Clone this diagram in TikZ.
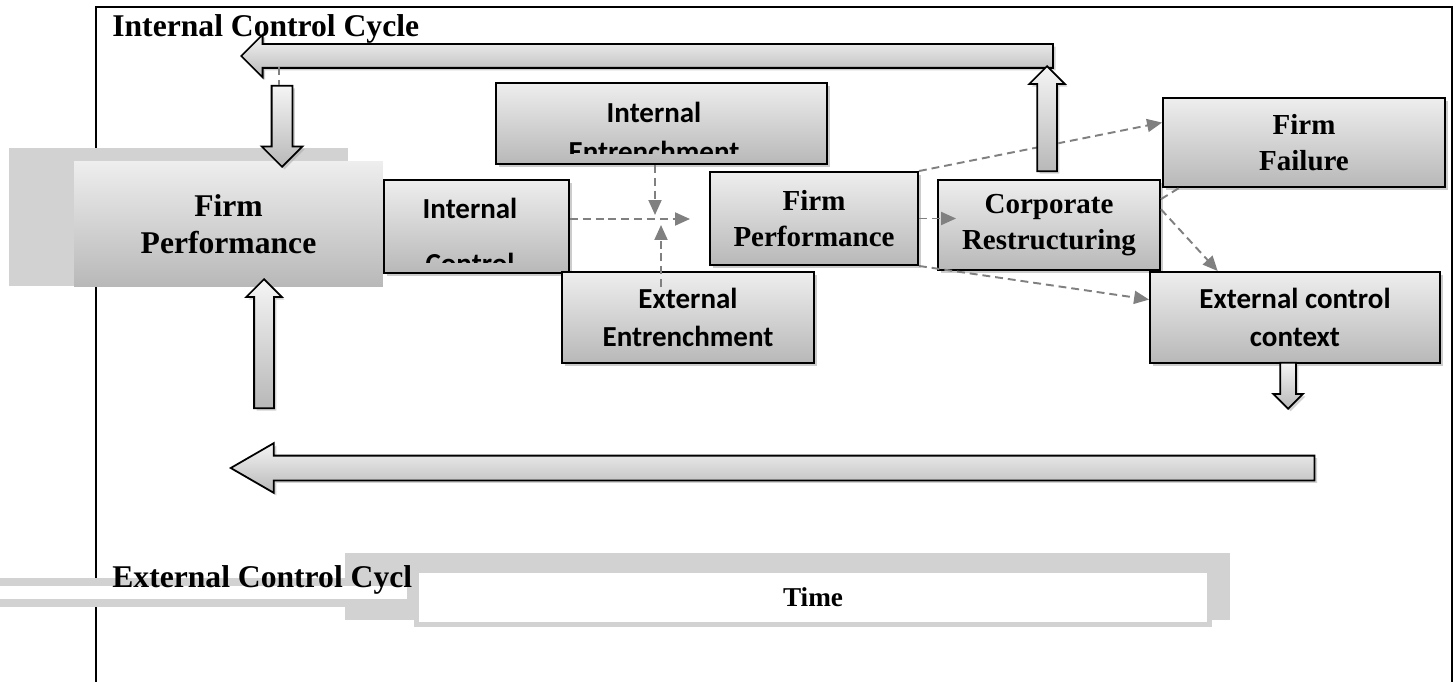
\documentclass[tikz,border=0pt]{standalone}
\usepackage{fontspec}
\setmainfont{Liberation Serif}
\newfontfamily\calib{Carlito}
\usepackage{tikz}
\usetikzlibrary{shapes.arrows, arrows.meta, calc, shadows}
\definecolor{boxTop}{RGB}{238,238,238}
\definecolor{boxBottom}{RGB}{184,184,184}
\definecolor{dashGray}{RGB}{128,128,128}
\definecolor{paleGray}{RGB}{210,210,210}

\begin{document}
\begin{tikzpicture}[
    x=0.02cm, y=-0.02cm,
    >={Triangle[length=0.3cm, width=0.26cm]},
    % Styles
    box/.style={
        draw=black, line width=1.1pt, top color=boxTop, bottom color=boxBottom, inner sep=0pt, align=center,
        drop shadow={shadow xshift=0.06cm, shadow yshift=-0.06cm, fill=black!40}
    },
    big_box/.style={
        top color=boxTop, bottom color=boxBottom, inner sep=0pt, align=center
    },
    big_lbl/.style={font=\fontsize{18}{21}\selectfont\bfseries},
    times_lbl/.style={font=\fontsize{16.5}{20.5}\selectfont\bfseries},
    calib_lbl/.style={font=\calib\fontsize{16.5}{22}\selectfont\bfseries},
    block_arrow/.style={
        single arrow, draw=black, line width=1pt, top color=boxTop!60!white, bottom color=boxBottom,
        single arrow tip angle=90,
        drop shadow={shadow xshift=0.05cm, shadow yshift=-0.05cm, fill=black!35}
    },
    dash_line/.style={draw=dashGray, line width=1.1pt, dash pattern=on 4.5pt off 2.8pt},
    dash_arrow/.style={dash_line, ->, dashGray}
]
    \useasboundingbox (0,0) rectangle (1456,682);

    % --- Frame & title ---
    \draw[line width=0.05cm] (96,682) -- (96,7) -- (1452,7) -- (1452,682);
    \node[big_lbl, anchor=base west, inner sep=0pt] (int_cycle) at (112,37) {Internal Control Cycle};

    % --- Firm performance (start) ---
    \fill[paleGray] (9,148) rectangle (348,286);
    \node[big_box, big_lbl, minimum width=6.18cm, minimum height=2.52cm] (big_perf) at (228.5,224) {Firm\\Performance};

    % --- Boxes ---
    \node[box, minimum width=3.7cm, minimum height=1.86cm] (int_ctrl) at (476.5,226.5) {};
    \node[box, minimum width=6.62cm, minimum height=1.62cm] (int_ent) at (661.5,123.5) {};
    \node[box, calib_lbl, minimum width=5.04cm, minimum height=1.82cm] (ext_ent) at (688,317.5) {External\\Entrenchment};
    \node[box, times_lbl, minimum width=4.16cm, minimum height=1.86cm] (mid_perf) at (814,218.5) {Firm\\Performance};
    \node[box, times_lbl, minimum width=4.44cm, minimum height=1.8cm] (corp) at (1049,225) {Corporate\\Restructuring};
    \node[box, times_lbl, minimum width=5.64cm, minimum height=1.78cm] (failure) at (1304,142.5) {Firm\\Failure};
    \node[box, calib_lbl, minimum width=5.8cm, minimum height=1.82cm] (ext_ctx) at (1295,317.5) {External control\\context};

    % text cut off at the bottom of the box
    \begin{scope}
        \clip (int_ctrl.north west) rectangle ($(int_ctrl.south east)+(0,-11)$);
        \node[calib_lbl, anchor=base] (int_ctrl_a) at (470,218) {Internal};
        \node[calib_lbl, anchor=base] (int_ctrl_b) at (470,273) {Control};
    \end{scope}
    \begin{scope}
        \clip (int_ent.north west) rectangle ($(int_ent.south east)+(0,-11)$);
        \node[calib_lbl, anchor=base] (int_ent_a) at (654,123) {Internal};
        \node[calib_lbl, anchor=base] (int_ent_b) at (654,162) {Entrenchment};
    \end{scope}

    % --- Dashed connectors ---
    \coordinate (meet) at (690,219);
    \coordinate (meet_a) at (655,215);
    \coordinate (meet_b) at (661,225);
    \draw[dash_arrow] (int_ctrl.east |- meet) -- (meet);
    \draw[dash_arrow] (int_ent.south -| meet_a) -- (meet_a);
    \draw[dash_arrow, shorten <=-0.32cm] (ext_ent.north -| meet_b) -- (meet_b);

    \draw[dash_arrow, shorten >=-0.38cm] (mid_perf.east) -- (mid_perf.east -| corp.west);
    \draw[dash_arrow] (mid_perf.north east) -- (failure.172);
    \draw[dash_arrow] (mid_perf.south east) -- (ext_ctx.173);
    \draw[dash_arrow] (corp.8) -- (ext_ctx.149);
    \draw[dash_line] (corp.13) -- ($(failure.south west)+(17,0)$);

    % --- Block arrows ---
    \node[block_arrow, shape border rotate=180, inner sep=0.22cm, single arrow head extend=0.19cm,
          minimum height=16.24cm, anchor=tip] (top_cycle) at (240,56) {};
    \node[block_arrow, shape border rotate=270, inner sep=0.19cm, single arrow head extend=0.2cm,
          minimum height=1.62cm, anchor=tip] (down_in) at (282,168) {};
    \node[block_arrow, shape border rotate=90, inner sep=0.18cm, single arrow head extend=0.16cm,
          minimum height=2.58cm, anchor=tip] (up_in) at (264,278) {};
    \node[block_arrow, shape border rotate=90, inner sep=0.18cm, single arrow head extend=0.16cm,
          minimum height=2.1cm, anchor=tip] (up_out) at (1047,65) {};
    \node[block_arrow, shape border rotate=270, inner sep=0.14cm, single arrow head extend=0.14cm,
          minimum height=0.92cm, anchor=tip] (down_ext) at (1288,410) {};
    \node[block_arrow, shape border rotate=180, inner sep=0.23cm, single arrow head extend=0.25cm,
          single arrow tip angle=60, minimum height=21.68cm, anchor=tip] (bottom_cycle) at (229,468) {};

    \coordinate (stub) at (279,67);
    \draw[dash_line] (stub) -- (stub |- down_in.tail);

    % --- External control cycle & time ---
    \fill[paleGray] (345,553) rectangle (1230,620);
    \draw[paleGray, fill=white, line width=0.16cm] (-20,582) rectangle (411,603);
    \node[draw=paleGray, fill=white, line width=0.1cm, minimum width=15.85cm, minimum height=1.07cm,
          font=\fontsize{15.5}{18}\selectfont\bfseries] (time_box) at (813,597.5) {Time};
    \node[big_lbl, anchor=base west, inner sep=0pt] (ext_cycle) at (112,587) {External Control Cycl};

\end{tikzpicture}
\end{document}
